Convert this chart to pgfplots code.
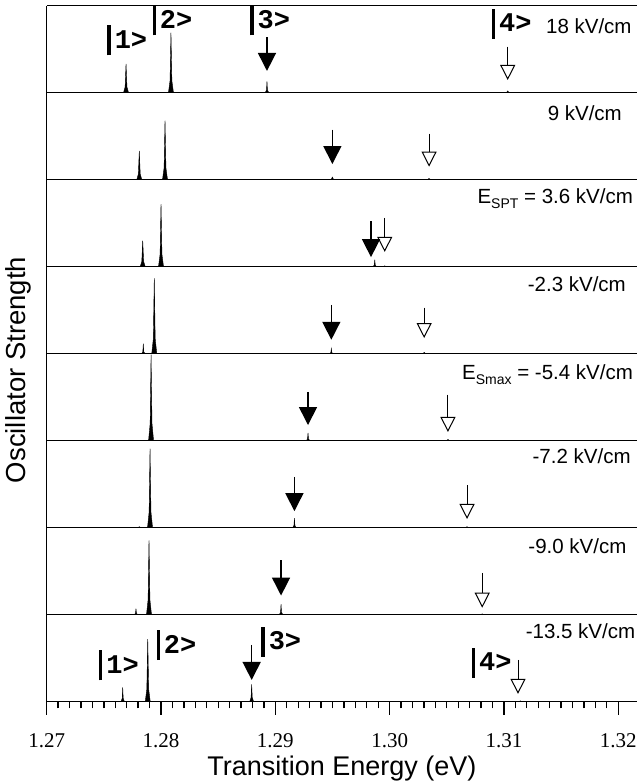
\documentclass[border=0pt]{standalone}
\usepackage{fontspec}
\setmainfont{Liberation Sans}
\newfontfamily\tnr{Liberation Serif}
\newfontfamily\monob{Liberation Mono}
\usepackage{pgfplots}
\pgfplotsset{compat=1.18}
\usetikzlibrary{arrows.meta}

\newcommand{\ket}[1]{\rule[-7bp]{3.3bp}{30bp}\hspace{4bp}#1>}

\pgfplotsset{
  panel/.style={
    width=590.3bp, height=87bp, scale only axis,
    anchor=south west,
    xmin=1.27, xmax=1.32164, ymin=0, ymax=1,
    axis x line*=box, axis y line*=left,
    xtick=\empty, ytick=\empty,
    axis line style={line width=1.5bp},
    clip=false,
  },
}
\tikzset{
  peak/.style={fill=black, draw=black, line width=0.4bp},
  farrow/.style={line width=1.5bp, -{Triangle[width=18bp,length=18bp]}},
  oarrow/.style={line width=1bp, -{Triangle[open,width=15bp,length=15bp]}},
  lab/.style={font=\fontsize{20.5bp}{24bp}\selectfont, inner sep=0pt, anchor=base east},
  ketlab/.style={font=\monob\bfseries\fontsize{27bp}{27bp}\selectfont, inner sep=0pt, anchor=base west},
}

\begin{document}
\begin{tikzpicture}

% 18 kV/cm
\begin{axis}[panel, at={(0,609bp)}]
\addplot[peak] coordinates {
  (1.27672,0) (1.27686,0.066) (1.27694,0.33) (1.27702,0.066) (1.27716,0)
  (1.28065,0) (1.28079,0.138) (1.28087,0.69) (1.28095,0.138) (1.28109,0)
  (1.28912,0) (1.28923,0.033) (1.28927,0.13) (1.28931,0.033) (1.28942,0)
  (1.31021,0) (1.31033,0.02) (1.31045,0)
};
\addplot[farrow] coordinates {(1.28927,0.64) (1.28927,0.25)};
\addplot[oarrow] coordinates {(1.31033,0.53) (1.31033,0.146)};
\node[lab] at (axis cs:1.32118,0.68) {18 kV/cm};
\node[ketlab] at (axis cs:1.27530,0.51) {\ket{1}};
\node[ketlab] at (axis cs:1.27924,0.74) {\ket{2}};
\node[ketlab] at (axis cs:1.28779,0.74) {\ket{3}};
\node[ketlab] at (axis cs:1.30893,0.70) {\ket{4}};
\end{axis}

% 9 kV/cm
\begin{axis}[panel, at={(0,522bp)}]
\addplot[peak] coordinates {
  (1.27788,0) (1.27802,0.066) (1.27810,0.33) (1.27818,0.066) (1.27832,0)
  (1.28013,0) (1.28027,0.136) (1.28035,0.68) (1.28043,0.136) (1.28057,0)
  (1.29487,0) (1.29499,0.03) (1.29511,0)
  (1.30333,0) (1.30345,0.015) (1.30357,0)
};
\addplot[farrow] coordinates {(1.29499,0.575) (1.29499,0.18)};
\addplot[oarrow] coordinates {(1.30345,0.53) (1.30345,0.15)};
\node[lab] at (axis cs:1.32033,0.68) {9 kV/cm};
\end{axis}

% E_SPT = 3.6 kV/cm
\begin{axis}[panel, at={(0,435bp)}]
\addplot[peak] coordinates {
  (1.27818,0) (1.27832,0.06) (1.27840,0.30) (1.27848,0.06) (1.27862,0)
  (1.27978,0) (1.27992,0.144) (1.28000,0.72) (1.28008,0.144) (1.28022,0)
  (1.29855,0) (1.29866,0.02) (1.29870,0.08) (1.29874,0.02) (1.29885,0)
  (1.29945,0) (1.29957,0.01) (1.29969,0)
};
\addplot[farrow] coordinates {(1.29837,0.52) (1.29837,0.11)};
\addplot[oarrow] coordinates {(1.29957,0.56) (1.29957,0.17)};
\node[lab] at (axis cs:1.32130,0.73) {E\raisebox{-5bp}{\fontsize{14bp}{14bp}\selectfont SPT} = 3.6 kV/cm};
\end{axis}

% -2.3 kV/cm
\begin{axis}[panel, at={(0,348bp)}]
\addplot[peak] coordinates {
  (1.27830,0) (1.27841,0.023) (1.27845,0.115) (1.27849,0.023) (1.27860,0)
  (1.27919,0) (1.27933,0.174) (1.27941,0.87) (1.27949,0.174) (1.27963,0)
  (1.29476,0) (1.29486,0.015) (1.29490,0.06) (1.29494,0.015) (1.29504,0)
  (1.30290,0) (1.30302,0.015) (1.30314,0)
};
\addplot[farrow] coordinates {(1.29490,0.56) (1.29490,0.16)};
\addplot[oarrow] coordinates {(1.30302,0.53) (1.30302,0.18)};
\node[lab] at (axis cs:1.32068,0.72) {-2.3 kV/cm};
\end{axis}

% E_Smax = -5.4 kV/cm
\begin{axis}[panel, at={(0,261bp)}]
\addplot[peak] coordinates {
  (1.27891,0) (1.27905,0.198) (1.27913,0.99) (1.27921,0.198) (1.27935,0)
  (1.29271,0) (1.29282,0.022) (1.29286,0.09) (1.29290,0.022) (1.29301,0)
  (1.30498,0) (1.30510,0.015) (1.30522,0)
};
\addplot[farrow] coordinates {(1.29286,0.56) (1.29286,0.18)};
\addplot[oarrow] coordinates {(1.30510,0.53) (1.30510,0.10)};
\node[lab] at (axis cs:1.32130,0.70) {E\raisebox{-5bp}{\fontsize{14bp}{14bp}\selectfont Smax} = -5.4 kV/cm};
\end{axis}

% -7.2 kV/cm
\begin{axis}[panel, at={(0,174bp)}]
\addplot[peak] coordinates {
  (1.27798,0) (1.27810,0.012) (1.27822,0)
  (1.27882,0) (1.27896,0.182) (1.27904,0.91) (1.27912,0.182) (1.27926,0)
  (1.29152,0) (1.29163,0.027) (1.29167,0.11) (1.29171,0.027) (1.29182,0)
  (1.30665,0) (1.30677,0.012) (1.30689,0)
};
\addplot[farrow] coordinates {(1.29167,0.585) (1.29167,0.19)};
\addplot[oarrow] coordinates {(1.30677,0.49) (1.30677,0.10)};
\node[lab] at (axis cs:1.32110,0.74) {-7.2 kV/cm};
\end{axis}

% -9.0 kV/cm
\begin{axis}[panel, at={(0,87bp)}]
\addplot[peak] coordinates {
  (1.27767,0) (1.27777,0.017) (1.27781,0.07) (1.27785,0.017) (1.27795,0)
  (1.27873,0) (1.27887,0.171) (1.27895,0.855) (1.27903,0.171) (1.27917,0)
  (1.29035,0) (1.29046,0.03) (1.29050,0.12) (1.29054,0.03) (1.29065,0)
  (1.30798,0) (1.30810,0.01) (1.30822,0)
};
\addplot[farrow] coordinates {(1.29050,0.625) (1.29050,0.22)};
\addplot[oarrow] coordinates {(1.30810,0.48) (1.30810,0.08)};
\node[lab] at (axis cs:1.32073,0.70) {-9.0 kV/cm};
\end{axis}

% -13.5 kV/cm (bottom, with ticks)
\begin{axis}[panel, at={(0,0bp)},
  xtick={1.27,1.28,1.29,1.30,1.31,1.32},
  minor x tick num=9,
  xtick pos=left, tick align=outside,
  major tick length=13bp, minor tick length=6.7bp,
  every tick/.style={black, line width=1.3bp},
  /pgf/number format/assume math mode=true,
  xticklabel style={/pgf/number format/.cd, fixed, fixed zerofill, precision=2},
  tick label style={font=\tnr\fontsize{21bp}{21bp}\selectfont, yshift=-15bp},
  xlabel={Transition Energy (eV)},
  xlabel style={font=\fontsize{27bp}{30bp}\selectfont, at={(axis description cs:0.5,0)}, anchor=center, yshift=-67bp},
]
\addplot[peak] coordinates {
  (1.27650,0) (1.27661,0.041) (1.27665,0.165) (1.27669,0.041) (1.27680,0)
  (1.27862,0) (1.27876,0.144) (1.27884,0.72) (1.27892,0.144) (1.27906,0)
  (1.28776,0) (1.28788,0.05) (1.28793,0.20) (1.28798,0.05) (1.28810,0)
  (1.31131,0) (1.31143,0.01) (1.31155,0)
};
\addplot[farrow] coordinates {(1.28793,0.654) (1.28793,0.25)};
\addplot[oarrow] coordinates {(1.31123,0.48) (1.31123,0.09)};
\node[lab] at (axis cs:1.32150,0.73) {-13.5 kV/cm};
\node[ketlab] at (axis cs:1.27457,0.327) {\ket{1}};
\node[ketlab] at (axis cs:1.27960,0.558) {\ket{2}};
\node[ketlab] at (axis cs:1.28877,0.596) {\ket{3}};
\node[ketlab] at (axis cs:1.30717,0.358) {\ket{4}};
\end{axis}

\node[rotate=90, font=\fontsize{27.5bp}{30bp}\selectfont] at (-28.7bp,331.7bp) {Oscillator Strength};

\pgfresetboundingbox
\useasboundingbox (-46.7bp,-79.3bp) rectangle (590.3bp,701.7bp);
\end{tikzpicture}
\end{document}
